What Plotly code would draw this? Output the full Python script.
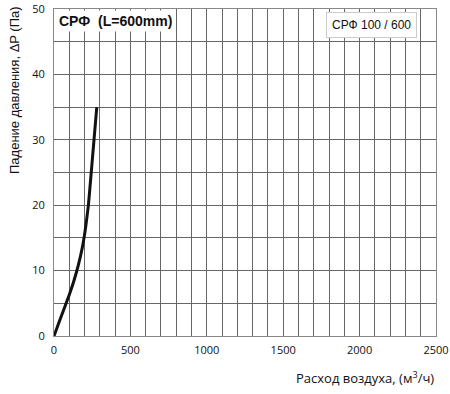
import plotly.graph_objects as go

flow = [0, 30, 60, 100, 130, 160, 185, 200, 212, 225, 240, 260, 280]
pressure = [0, 1.9, 3.8, 6.3, 8.4, 10.9, 13.5, 15.5, 17.5, 20, 24, 29.5, 35]
series_name = "СРФ 100 / 600"
chart_title = "СРФ  (L=600mm)"
x_title = "Расход воздуха, (м<sup>3</sup>/ч)"
y_title = "Падение давления, ΔP (Па)"

fig = go.Figure()
fig.add_trace(go.Scatter(x=flow, y=pressure, mode="lines",
                         line=dict(color="#111111", width=3, shape="spline", smoothing=0.8),
                         name=series_name, showlegend=False))

grid = "#666666"
fig.update_layout(
    width=450, height=394,
    margin=dict(l=54, r=14, t=9, b=58),
    paper_bgcolor="white", plot_bgcolor="white",
    font=dict(family="Open Sans", size=11, color="#111"),
    xaxis=dict(range=[0, 2500], dtick=500, showgrid=True, gridcolor=grid, gridwidth=1,
               minor=dict(dtick=100, showgrid=True, gridcolor=grid, gridwidth=1),
               showline=True, linecolor="#888", linewidth=1, zeroline=False, automargin=False,
               ticks="", ticklabelstandoff=4, mirror=True, fixedrange=True),
    yaxis=dict(range=[0, 50], dtick=10, showgrid=True, gridcolor=grid, gridwidth=1,
               minor=dict(dtick=5, showgrid=True, gridcolor=grid, gridwidth=1),
               showline=True, linecolor="#888", linewidth=1, zeroline=False, automargin=False,
               ticks="", ticklabelstandoff=6, mirror=True, fixedrange=True),
    annotations=[
        dict(text="<b>" + chart_title + "</b>", xref="paper", yref="paper", x=0.004, y=0.997,
             xanchor="left", yanchor="top", showarrow=False, bgcolor="white",
             font=dict(family="Liberation Sans", size=14, color="#111"), borderpad=2),
        dict(text=series_name, xref="paper", yref="paper", x=0.95, y=0.99,
             xanchor="right", yanchor="top", showarrow=False, bgcolor="white",
             bordercolor="#cccccc", borderwidth=1, borderpad=5,
             font=dict(family="Liberation Sans", size=12, color="#111")),
        dict(text=y_title, xref="paper", yref="paper", x=-0.105, y=0.752, textangle=-90,
             xanchor="center", yanchor="middle", showarrow=False,
             font=dict(family="Liberation Sans", size=13, color="#111")),
        dict(text=x_title, xref="paper", yref="paper", x=1.0, y=-0.128,
             xanchor="right", yanchor="middle", showarrow=False,
             font=dict(family="Open Sans", size=13, color="#111")),
    ],
)
fig.write_html("out.html", config={"displayModeBar": False},
               post_script="document.body.style.margin='0';")
